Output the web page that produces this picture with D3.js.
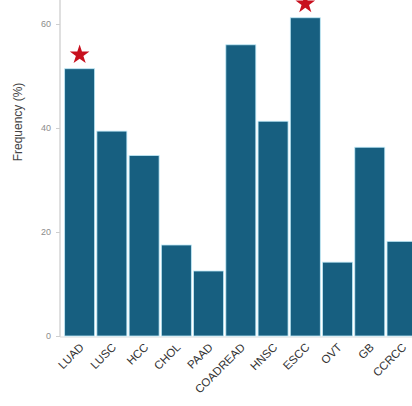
<!DOCTYPE html>
<html>
<head>
<meta charset="utf-8">
<script src="https://cdn.jsdelivr.net/npm/d3@7"></script>
<style>
  html, body { margin: 0; padding: 0; background: #fff; }
  svg { display: block; font-family: "Liberation Sans", Arial, sans-serif; }
</style>
</head>
<body>
<svg id="chart" width="412" height="406"></svg>
<script>
// values
const cancers = ["LUAD", "LUSC", "HCC", "CHOL", "PAAD", "COADREAD", "HNSC", "ESCC", "OVT", "GB", "CCRCC"];
const frequency = [51.4, 39.4, 34.7, 17.5, 12.5, 56.0, 41.3, 61.2, 14.2, 36.3, 18.2];
const starred = ["LUAD", "ESCC"];
const yTicks = [0, 20, 40, 60];

const svg = d3.select("#chart");
const W = 412, H = 406;

const x = d3.scaleBand()
  .domain(cancers)
  .range([64, 64 + cancers.length * 32.15])
  .paddingInner(0.07)
  .paddingOuter(0.02);

const y = d3.scaleLinear()
  .domain([0, 60])
  .range([336, 24]);

const data = cancers.map((c, i) => ({ name: c, value: frequency[i] }));

// axis lines
svg.append("line")
  .attr("x1", 60).attr("x2", 60)
  .attr("y1", 0).attr("y2", y(0) + 1)
  .attr("stroke", "#d4d4d4").attr("stroke-width", 1.5);
svg.append("line")
  .attr("x1", 60).attr("x2", W)
  .attr("y1", y(0) + 1).attr("y2", y(0) + 1)
  .attr("stroke", "#dcdcdc").attr("stroke-width", 1);

// y axis ticks
const yAxis = svg.append("g")
  .attr("transform", "translate(60,0)")
  .call(d3.axisLeft(y).tickValues(yTicks).tickSize(4).tickPadding(5));
yAxis.select(".domain").remove();
yAxis.selectAll(".tick line").attr("stroke", "#cfcfcf");
yAxis.selectAll(".tick text").attr("fill", "#8c8c8c").attr("font-size", 9);

// bars
svg.append("g").selectAll("rect")
  .data(data)
  .join("rect")
  .attr("x", d => x(d.name))
  .attr("y", d => y(d.value))
  .attr("width", x.bandwidth())
  .attr("height", d => y(0) - y(d.value))
  .attr("fill", "#175f80")
  .attr("stroke", "#bfe9f7")
  .attr("stroke-width", 0.8);

// significance stars
svg.append("g").selectAll("path")
  .data(data.filter(d => starred.includes(d.name)))
  .join("path")
  .attr("d", d3.symbol(d3.symbolStar, 120))
  .attr("transform", d => `translate(${x(d.name) + x.bandwidth() / 2},${y(d.value) - 14})`)
  .attr("fill", "#c8101e");

// x labels
svg.append("g").selectAll("text")
  .data(cancers)
  .join("text")
  .attr("transform", d => `translate(${x(d) + x.bandwidth() / 2 + 5},${y(0) + 12}) rotate(-45)`)
  .attr("text-anchor", "end")
  .attr("font-size", 11.5)
  .attr("fill", "#333")
  .text(d => d);

// y title
svg.append("text")
  .attr("transform", "translate(22,122) rotate(-90)")
  .attr("text-anchor", "middle")
  .attr("font-size", 12)
  .attr("fill", "#444")
  .text("Frequency (%)");
</script>
</body>
</html>
